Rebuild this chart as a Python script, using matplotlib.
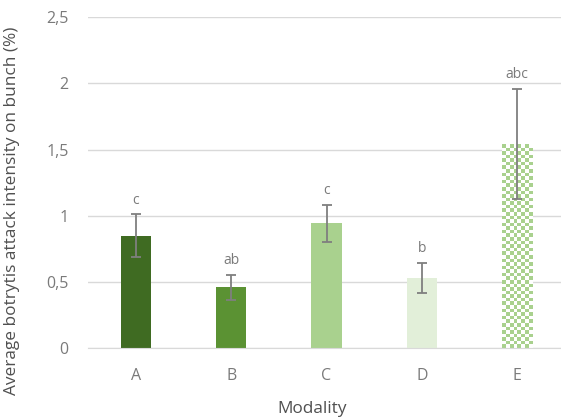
import matplotlib.pyplot as plt
import numpy as np
from matplotlib.colors import ListedColormap

modalities = ['A', 'B', 'C', 'D', 'E']
means = [0.85, 0.46, 0.945, 0.53, 1.54]
errors = [0.16, 0.095, 0.14, 0.115, 0.415]
letters = ['c', 'ab', 'c', 'b', 'abc']
colors = ['#3f6b22', '#5b9233', '#a9d18e', '#e2efd9', '#a9d18e']

plt.rcParams['font.family'] = ['Open Sans', 'DejaVu Sans']
grey = '#7a7a7a'
dark = '#505050'

fig = plt.figure(figsize=(5.61, 4.19), dpi=100)
ax = fig.add_axes([0.157, 0.169, 0.850, 0.79])

x = np.arange(len(modalities))
bars = ax.bar(x, means, width=0.315, color=colors, zorder=2)
ax.errorbar(x, means, yerr=errors, fmt='none', ecolor='#7f7f7f',
            elinewidth=1.3, capsize=3.5, capthick=1.3, zorder=3)

ax.set_xlim(-0.5, 4.5)
ax.set_ylim(0, 2.5)

# checkerboard fill for the last bar
fig.canvas.draw()
last = bars[-1]
last.set_facecolor('white')
bb = last.get_window_extent()
cell = 3.6
ncols = max(1, int(round(bb.width / cell)))
nrows = max(1, int(round(bb.height / cell)))
board = (np.add.outer(np.arange(nrows), np.arange(ncols)) % 2).astype(float)
im = ax.imshow(board, cmap=ListedColormap(['#a9d18e', '#ffffff']),
               extent=(last.get_x(), last.get_x() + last.get_width(), 0, last.get_height()),
               aspect='auto', interpolation='nearest', zorder=2.1)
im.set_clip_path(last)
ax.set_xlim(-0.5, 4.5)
ax.set_ylim(0, 2.5)

for xi, m, e, lab in zip(x, means, errors, letters):
    ax.annotate(lab, (xi, m + e), xytext=(0, 5), textcoords='offset points',
                ha='center', va='bottom', fontsize=10, color=grey)

ax.set_yticks([0, 0.5, 1, 1.5, 2, 2.5])
ax.set_yticklabels(['0', '0,5', '1', '1,5', '2', '2,5'])
ax.set_xticks(x)
ax.set_xticklabels(modalities)
ax.tick_params(axis='both', length=0, colors=grey, labelsize=11.5)
ax.tick_params(axis='x', pad=14)
ax.tick_params(axis='y', pad=14)
ax.yaxis.grid(True, color='#d9d9d9', lw=1, zorder=0)
for s in ['top', 'right', 'left']:
    ax.spines[s].set_visible(False)
ax.spines['bottom'].set_color('#d9d9d9')

ax.set_ylabel('Average botrytis attack intensity on bunch (%)', fontsize=12.4, color=dark)
ax.set_xlabel('Modality', fontsize=12.4, color=dark)
ax.yaxis.set_label_coords(-0.143, 0.415)
ax.xaxis.set_label_coords(0.47, -0.16)

fig.savefig('out.png', dpi=100)
